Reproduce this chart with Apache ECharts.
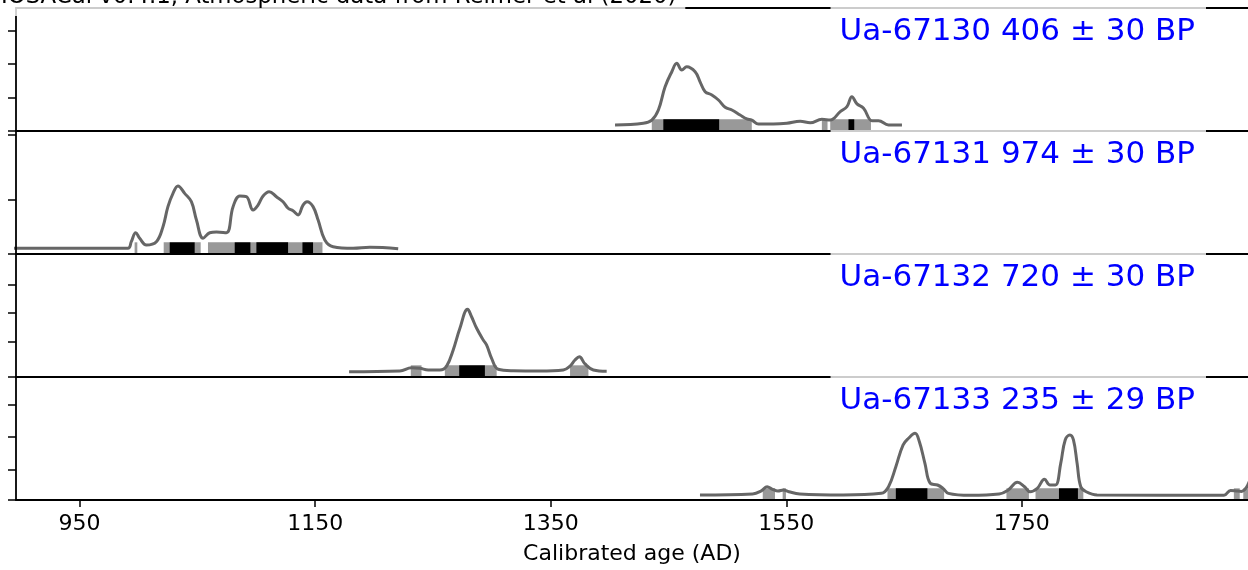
<!DOCTYPE html>
<html><head><meta charset="utf-8">
<script src="https://cdn.jsdelivr.net/npm/echarts@6/dist/echarts.min.js"></script>
<style>html,body{margin:0;padding:0;background:#fff}#c{width:1248px;height:570px}</style>
</head><body><div id="c"></div>
<script>
// ---------- data ----------
const TITLE = 'IOSACal v0.4.1, Atmospheric data from Reimer et al (2020)';
const AXIS_NAME = 'Calibrated age (AD)';
const X_MIN = 896, X_MAX = 1942;
const X_TICKS = [950, 1150, 1350, 1550, 1750];

const labels = ['Ua-67130 406 ± 30 BP', 'Ua-67131 974 ± 30 BP', 'Ua-67132 720 ± 30 BP', 'Ua-67133 235 ± 29 BP'];

// relative probability density (fraction of panel height)
const curve1 = [[1404.6,0.049],[1428.6,0.063],[1435.8,0.089],[1441.4,0.171],[1447.1,0.36],[1452.8,0.482],[1457.0,0.55],[1461.3,0.496],[1465.5,0.523],[1472.6,0.482],[1476.8,0.40],[1481.1,0.32],[1486.8,0.293],[1492.4,0.252],[1498.1,0.193],[1503.8,0.171],[1510.8,0.13],[1516.5,0.098],[1520.7,0.089],[1526.4,0.057],[1539.1,0.057],[1550.5,0.063],[1561.8,0.079],[1570.3,0.067],[1580.2,0.095],[1587.3,0.089],[1595.8,0.157],[1601.5,0.198],[1605.7,0.279],[1610.0,0.22],[1615.6,0.185],[1622.7,0.084],[1628.3,0.084],[1636.8,0.049],[1648.2,0.049]];
const curve2 = [[890,0.046],[991.0,0.046],[993.9,0.1],[997.6,0.173],[1001.0,0.128],[1006.7,0.073],[1015.2,0.1],[1020.8,0.222],[1025.0,0.385],[1029.3,0.493],[1033.5,0.553],[1039.2,0.493],[1044.9,0.425],[1049.2,0.276],[1054.8,0.128],[1060.5,0.173],[1066.2,0.179],[1074.6,0.173],[1080.3,0.385],[1086.0,0.472],[1091.6,0.466],[1097.3,0.358],[1101.5,0.398],[1105.8,0.472],[1110.9,0.507],[1117.1,0.466],[1122.7,0.425],[1127.0,0.372],[1131.2,0.352],[1135.5,0.317],[1139.7,0.398],[1143.1,0.425],[1148.2,0.385],[1152.5,0.276],[1158.2,0.114],[1165.2,0.059],[1182.2,0.046],[1196.4,0.054],[1220.5,0.043]];
const curve3 = [[1178.8,0.043],[1221.9,0.049],[1231.8,0.076],[1238.9,0.071],[1246.0,0.057],[1255.9,0.057],[1261.6,0.089],[1267.2,0.22],[1272.9,0.396],[1279.4,0.55],[1282.8,0.49],[1287.1,0.396],[1292.7,0.301],[1295.6,0.26],[1299.8,0.152],[1305.4,0.063],[1318.2,0.051],[1340.9,0.049],[1360.7,0.057],[1366.4,0.089],[1370.6,0.138],[1374.3,0.165],[1379.1,0.106],[1386.2,0.057],[1397.5,0.046]];
const curve4 = [[1476.7,0.041],[1521.4,0.049],[1529.1,0.076],[1533.7,0.108],[1538.3,0.087],[1542.9,0.073],[1547.6,0.081],[1552.2,0.067],[1561.4,0.049],[1598.3,0.041],[1630.6,0.054],[1636.8,0.108],[1643.0,0.271],[1649.1,0.447],[1653.8,0.502],[1659.3,0.542],[1663.0,0.474],[1667.7,0.298],[1672.2,0.136],[1678.4,0.122],[1683.0,0.095],[1687.6,0.054],[1706.2,0.038],[1730.7,0.049],[1738.4,0.081],[1746.2,0.144],[1752.3,0.108],[1756.9,0.067],[1763.1,0.095],[1769.2,0.168],[1773.9,0.122],[1778.5,0.122],[1783.0,0.298],[1786.8,0.488],[1790.8,0.528],[1793.8,0.488],[1796.9,0.298],[1800.0,0.108],[1804.6,0.067],[1813.9,0.041],[1921.6,0.038],[1927.2,0.078],[1930.8,0.076],[1936.5,0.07],[1940.5,0.1],[1944,0.17],[1948,0.25]];

// HPD intervals: [start, end, level]  (95 = grey, 68 = black)
const hpd1 = [[1435.8,1520.7,95],[1580.2,1585.0,95],[1587.3,1621.9,95],[1445.6,1493.0,68],[1602.8,1607.7,68]];
const hpd2 = [[996.7,999.0,95],[1021.4,1052.8,95],[1059.0,1156.2,95],[1026.5,1047.7,68],[1081.7,1095.0,68],[1100.1,1127.0,68],[1139.2,1148.2,68]];
const hpd3 = [[1231.2,1240.3,95],[1260.1,1304.1,95],[1366.4,1382.0,95],[1272.3,1294.1,68]];
const hpd4 = [[1530.0,1540.4,95],[1546.9,1549.7,95],[1635.9,1684.0,95],[1736.9,1756.0,95],[1761.6,1802.2,95],[1930.0,1935.0,95],[1938.0,1950.0,95],[1643.0,1669.8,68],[1781.5,1797.6,68]];

// unlabeled y ticks per panel
const yTicks1 = [0, 0.268, 0.545, 0.813];
const yTicks2 = [0, 0.44, 0.967];
const yTicks3 = [0, 0.285, 0.52, 0.748];
const yTicks4 = [0, 0.244, 0.512, 0.772];

// ---------- chart ----------
const curves = [curve1, curve2, curve3, curve4];
const hpds = [hpd1, hpd2, hpd3, hpd4];
const yTicks = [yTicks1, yTicks2, yTicks3, yTicks4];
const FONT = "'DejaVu Sans', sans-serif";
const TOPS = [8, 131, 254, 377], PH = 123, BAR_H = 0.095;

const grid = [], xAxis = [], yAxis = [], series = [], graphic = [];
for (let i = 0; i < 4; i++) {
  const last = i === 3;
  grid.push({left: 16, width: 1232, top: TOPS[i], height: PH});
  xAxis.push({
    type: 'value', gridIndex: i, min: X_MIN, max: X_MAX, z: 5,
    axisLine: {show: true, onZero: false, lineStyle: {color: '#000', width: 1.8}},
    axisTick: {show: last, customValues: X_TICKS, length: 7, lineStyle: {color: '#000', width: 1.5}},
    axisLabel: {show: last, customValues: X_TICKS, margin: 13, fontSize: 22, fontFamily: FONT, color: '#000',
      formatter: v => String(v)},
    splitLine: {show: false},
    name: last ? AXIS_NAME : '', nameLocation: 'middle', nameGap: 43,
    nameTextStyle: {fontSize: 22, fontFamily: FONT, color: '#000'}
  });
  yAxis.push({
    type: 'value', gridIndex: i, min: 0, max: 1, z: 5,
    axisLine: {show: true, lineStyle: {color: '#000', width: 1.8}},
    axisTick: {show: true, customValues: yTicks[i], length: 8, lineStyle: {color: '#000', width: 1.5}},
    axisLabel: {show: false},
    splitLine: {show: false}
  });
  const data = hpds[i].slice().sort((a, b) => b[2] - a[2]);
  series.push({
    type: 'custom', xAxisIndex: i, yAxisIndex: i, clip: true, z: 2,
    data: data,
    encode: {x: [0, 1]},
    renderItem: function (params, api) {
      const s = api.coord([api.value(0), 0]);
      const e = api.coord([api.value(1), BAR_H]);
      return {type: 'rect', shape: {x: s[0], y: e[1], width: e[0] - s[0], height: s[1] - e[1]},
        style: {fill: api.value(2) === 68 ? '#000' : '#999'}};
    }
  });
  series.push({
    type: 'line', xAxisIndex: i, yAxisIndex: i, data: curves[i], z: 3,
    showSymbol: false, symbol: 'none', smooth: 0.4, clip: true,
    lineStyle: {color: '#666', width: 3}
  });
  graphic.push({
    type: 'text', x: 1206, y: TOPS[i] - 1, z: 100,
    style: {text: labels[i], align: 'right', verticalAlign: 'top', fontSize: 31, fontFamily: FONT,
      fill: '#0000ff', backgroundColor: 'rgba(255,255,255,0.8)', padding: [9, 11, 9, 9]}
  });
}
// top spine of first panel
xAxis.push({
  type: 'value', gridIndex: 0, min: X_MIN, max: X_MAX, position: 'top', z: 5,
  axisLine: {show: true, onZero: false, lineStyle: {color: '#000', width: 1.8}},
  axisTick: {show: false}, axisLabel: {show: false}, splitLine: {show: false}
});
graphic.push({
  type: 'text', x: 0, y: 16, z: 100,
  style: {text: TITLE, align: 'left', verticalAlign: 'bottom', fontSize: 22.8, fontFamily: FONT,
    fill: '#000', backgroundColor: 'rgba(255,255,255,0.8)', padding: [0, 9, 7, 1]}
});

const chart = echarts.init(document.getElementById('c'), null, {renderer: 'canvas'});
chart.setOption({animation: false, backgroundColor: '#fff', grid, xAxis, yAxis, series, graphic});
</script></body></html>
